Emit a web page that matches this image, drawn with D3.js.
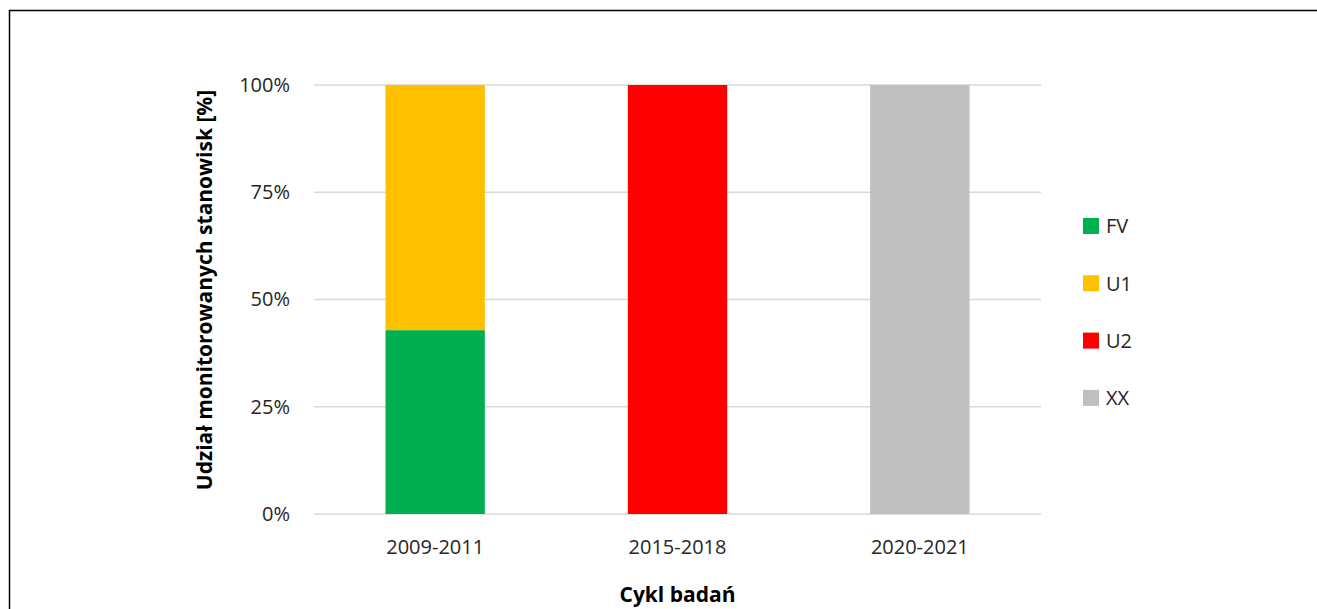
<!DOCTYPE html>
<html>
<head>
<meta charset="utf-8">
<script src="https://cdn.jsdelivr.net/npm/d3@7"></script>
<style>
  body { margin: 0; background: #fff; }
  svg { display: block; font-family: "Open Sans", Lato, sans-serif; }
</style>
</head>
<body>
<svg id="chart" width="1317" height="609"></svg>
<script>
// Survey cycles and share of monitored sites per condition class
const cycles = ["2009-2011", "2015-2018", "2020-2021"];
const classes = ["FV", "U1", "U2", "XX"];
const colors = ["#00b050", "#ffc000", "#ff0000", "#bfbfbf"];
const FV = [3 / 7, 0, 0];
const U1 = [4 / 7, 0, 0];
const U2 = [0, 1, 0];
const XX = [0, 0, 1];
const yTicks = [0, 0.25, 0.5, 0.75, 1];

const seriesValues = { FV, U1, U2, XX };
const rows = cycles.map((c, i) => {
  const r = { cycle: c };
  classes.forEach(k => { r[k] = seriesValues[k][i]; });
  return r;
});

const svg = d3.select("#chart");
const fontFamily = "'Open Sans', Lato, sans-serif";

// outer chart frame
svg.append("rect")
  .attr("x", 9.5).attr("y", 10.5)
  .attr("width", 1400).attr("height", 700)
  .attr("fill", "none").attr("stroke", "#000").attr("stroke-width", 1.5);

const plot = { left: 314, right: 1041, top: 85, bottom: 514 };

const x = d3.scaleBand().domain(cycles)
  .range([plot.left, plot.right])
  .paddingInner(0.59).paddingOuter(0.295);
const y = d3.scaleLinear().domain([0, 1]).range([plot.bottom, plot.top]);

// horizontal gridlines
svg.append("g").selectAll("line").data(yTicks).join("line")
  .attr("x1", plot.left).attr("x2", plot.right)
  .attr("y1", d => y(d)).attr("y2", d => y(d))
  .attr("stroke", "#d9d9d9").attr("stroke-width", 1.5);

// y axis labels
const yAxis = svg.append("g")
  .attr("transform", "translate(290,0)")
  .call(d3.axisLeft(y).tickValues(yTicks).tickFormat(d3.format(".0%")).tickSize(0).tickPadding(0));
yAxis.select(".domain").remove();
yAxis.selectAll("text")
  .attr("font-size", 20).attr("fill", "#262626")
  .attr("font-family", fontFamily);

// stacked bars
const stack = d3.stack().keys(classes)(rows);
const color = d3.scaleOrdinal().domain(classes).range(colors);
svg.append("g").selectAll("g").data(stack).join("g")
  .attr("fill", d => color(d.key))
  .selectAll("rect").data(d => d).join("rect")
  .attr("x", d => x(d.data.cycle))
  .attr("width", x.bandwidth())
  .attr("y", d => y(d[1]))
  .attr("height", d => y(d[0]) - y(d[1]));

// x axis labels
const xAxis = svg.append("g")
  .attr("transform", `translate(0,${plot.bottom})`)
  .call(d3.axisBottom(x).tickSize(0).tickPadding(0));
xAxis.select(".domain").remove();
xAxis.selectAll("text")
  .attr("font-size", 20).attr("fill", "#262626")
  .attr("y", 40).attr("dy", null)
  .attr("font-family", fontFamily);

// axis titles
svg.append("text")
  .attr("x", (plot.left + plot.right) / 2).attr("y", 602)
  .attr("text-anchor", "middle")
  .attr("font-size", 21).attr("font-weight", "bold").attr("fill", "#000")
  .text("Cykl badań");

svg.append("text")
  .attr("transform", "translate(212,290) rotate(-90)")
  .attr("text-anchor", "middle")
  .attr("font-size", 21).attr("font-weight", "bold").attr("fill", "#000")
  .text("Udział monitorowanych stanowisk [%]");

// legend
const legend = svg.append("g").selectAll("g").data(classes).join("g")
  .attr("transform", (d, i) => `translate(1083,${226 + i * 57.3})`);
legend.append("rect")
  .attr("x", 0).attr("y", -8).attr("width", 16).attr("height", 16)
  .attr("fill", d => color(d));
legend.append("text")
  .attr("x", 23).attr("y", 0).attr("dy", "0.36em")
  .attr("font-size", 20).attr("fill", "#262626")
  .attr("font-family", fontFamily)
  .text(d => d);
</script>
</body>
</html>
